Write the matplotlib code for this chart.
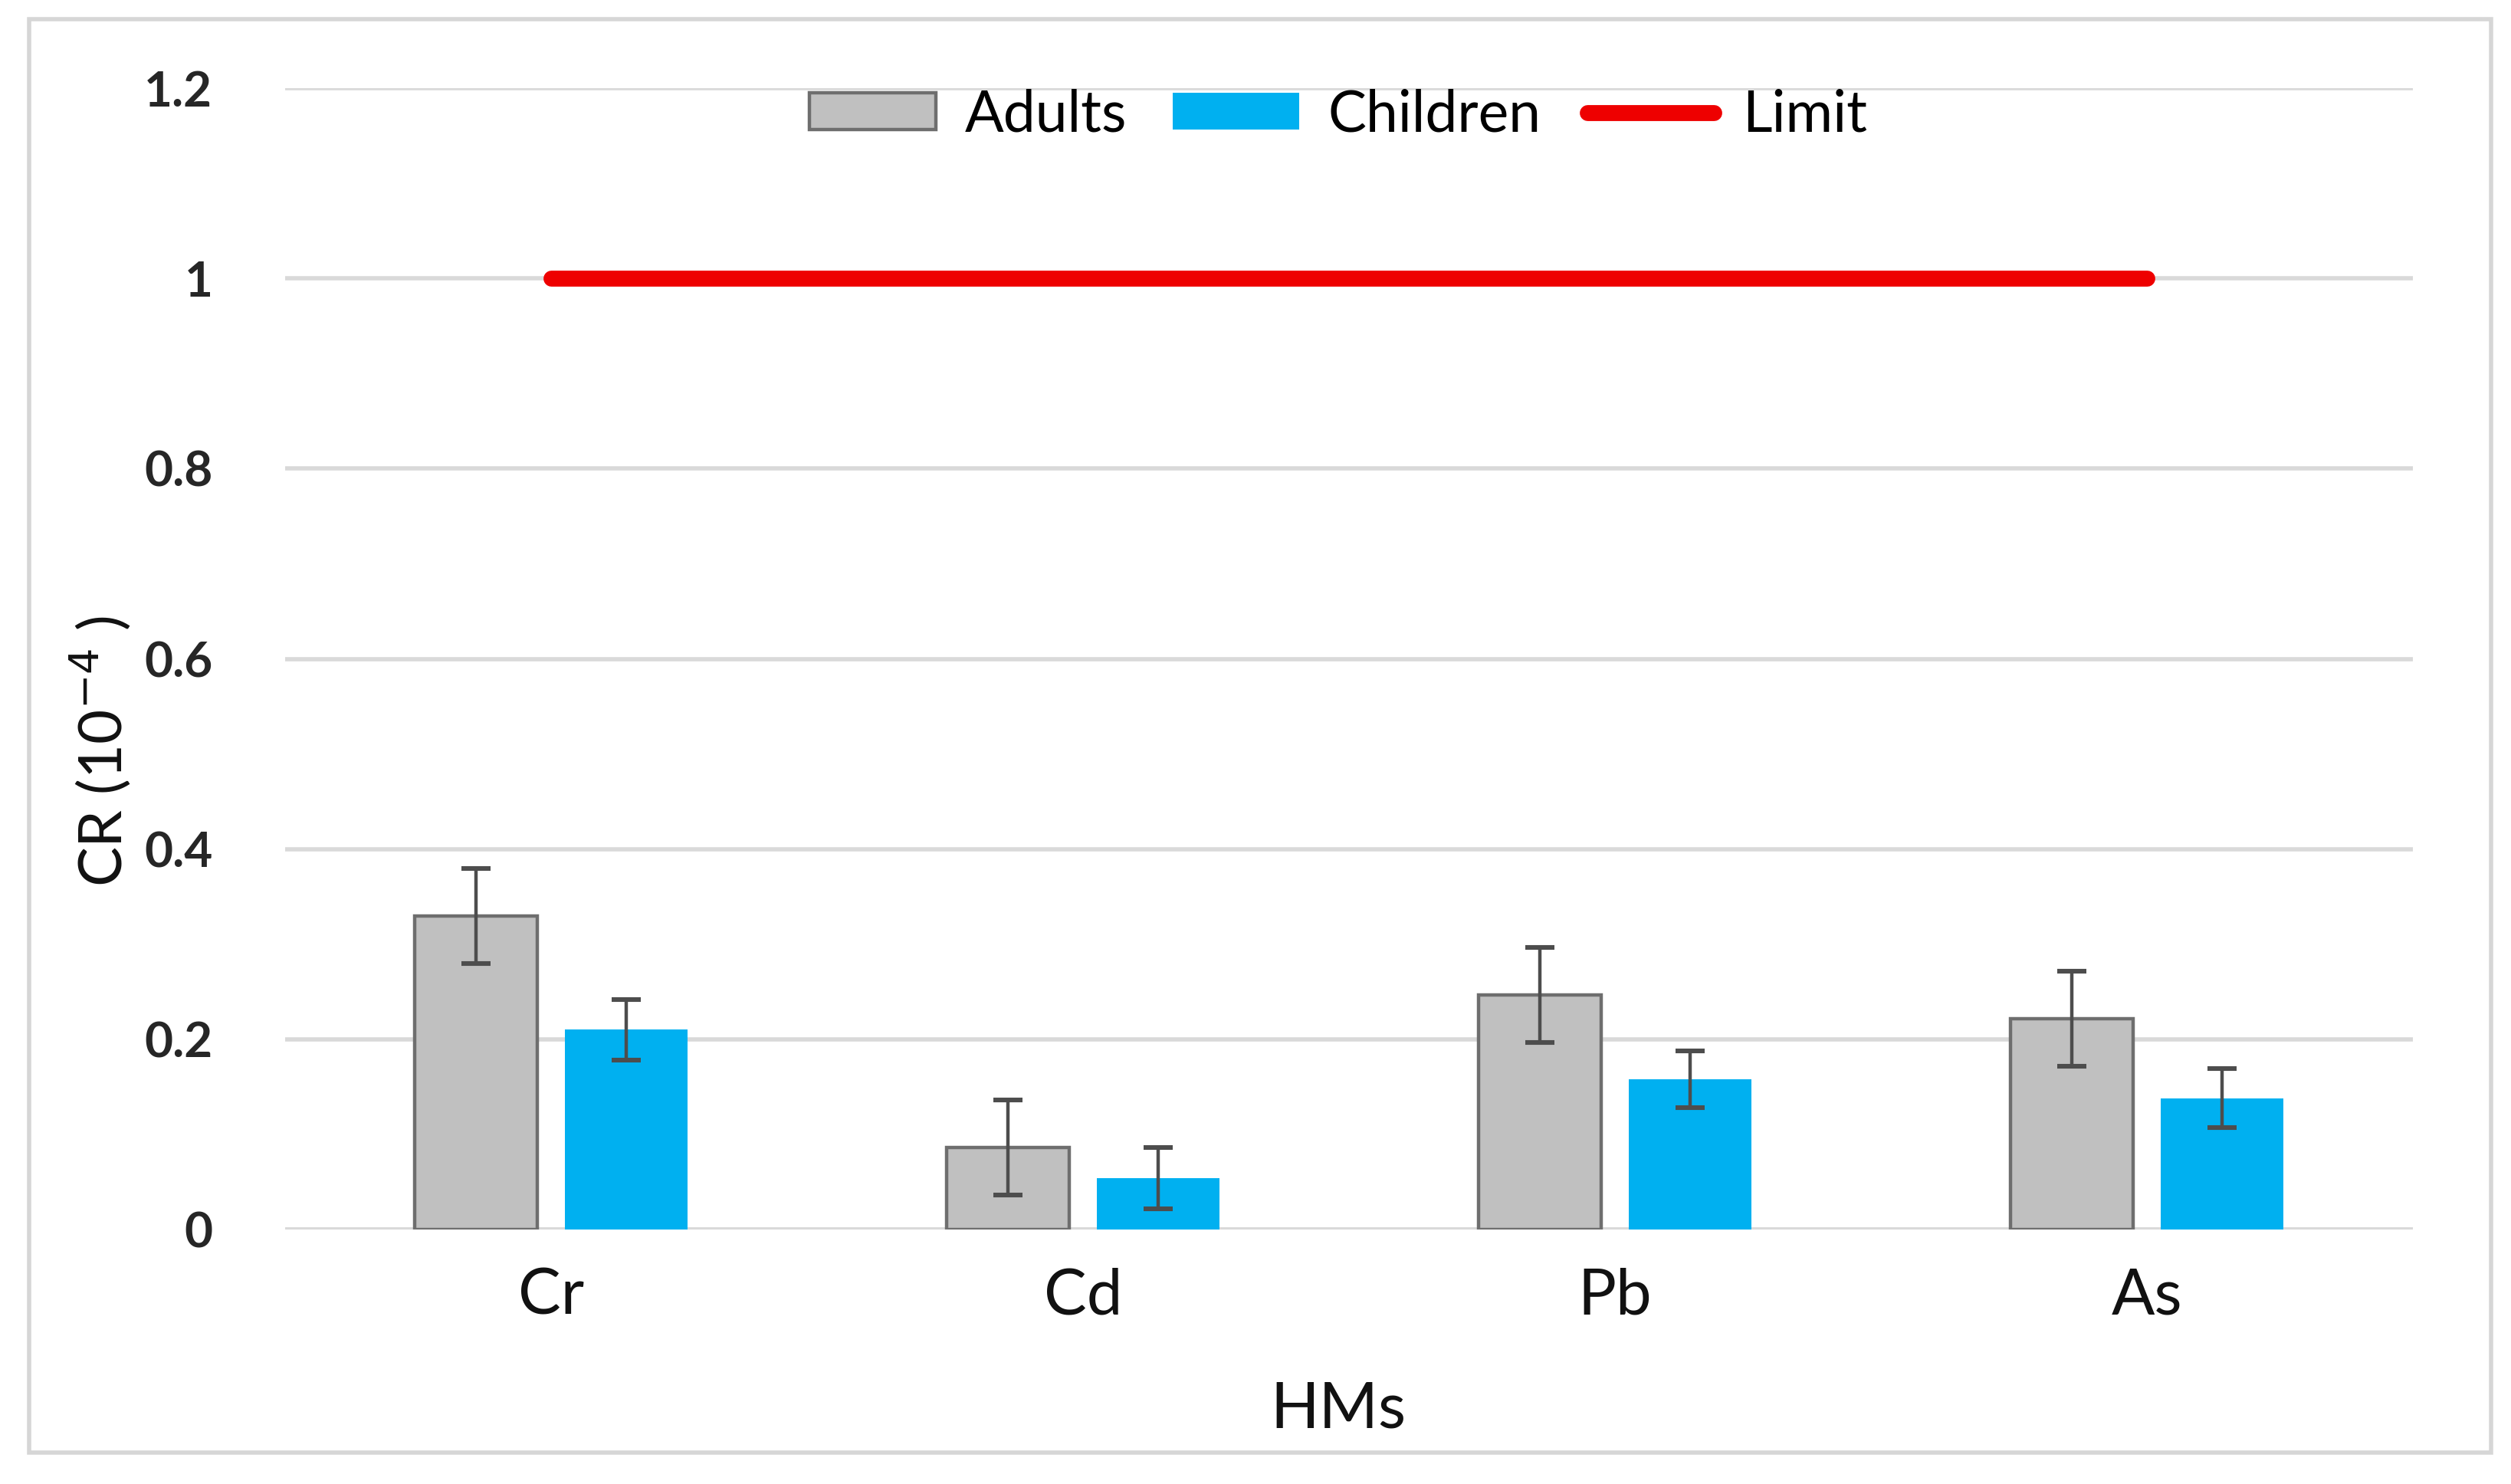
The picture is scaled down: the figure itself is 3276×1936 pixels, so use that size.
import numpy as np
import matplotlib
matplotlib.use("Agg")
import matplotlib.pyplot as plt
from matplotlib.patches import Rectangle
from matplotlib.lines import Line2D
from matplotlib.patches import Patch

# values
metals = ["Cr", "Cd", "Pb", "As"]
adults = [0.33, 0.086, 0.247, 0.222]
adults_err = [0.05, 0.05, 0.05, 0.05]
children = [0.21, 0.054, 0.158, 0.138]
children_err = [0.032, 0.032, 0.03, 0.031]
limit = [1, 1, 1, 1]
yticks = [0, 0.2, 0.4, 0.6, 0.8, 1, 1.2]
ytick_labels = ["0", "0.2", "0.4", "0.6", "0.8", "1", "1.2"]

plt.rcParams["font.family"] = ["Lato", "DejaVu Sans"]

fig = plt.figure(figsize=(16.38, 9.68), dpi=200)
ax = fig.add_axes([0.1135, 0.1715, 0.8475, 0.769])

# outer light frame
fig.patches.append(Rectangle((0.0115, 0.021), 0.9805, 0.966, transform=fig.transFigure,
                             fill=False, edgecolor="#d6d6d6", lw=2.0))

x = np.arange(len(metals))
w = 0.23
off = 0.141

ax.bar(x - off, adults, w, color="#c0c0c0", edgecolor="#6e6e6e", lw=1.6, zorder=3)
ax.bar(x + off, children, w, color="#00b0f0", edgecolor="none", zorder=3)
ax.errorbar(x - off, adults, yerr=adults_err, fmt="none", ecolor="#4d4d4d",
            elinewidth=1.6, capsize=7, capthick=2.2, zorder=4)
ax.errorbar(x + off, children, yerr=children_err, fmt="none", ecolor="#4d4d4d",
            elinewidth=1.6, capsize=7, capthick=2.2, zorder=4)
ax.plot(x, limit, color="#ee0000", lw=7.5, solid_capstyle="round", zorder=5)

ax.set_xlim(-0.5, 3.5)
ax.set_ylim(0, 1.2)
ax.set_yticks(yticks)
ax.set_yticklabels(ytick_labels, fontsize=23, fontweight="bold", color="#262626")
ax.set_xticks(x)
ax.set_xticklabels(metals, fontsize=30, color="#111111")
ax.tick_params(axis="y", length=0, pad=34)
ax.tick_params(axis="x", length=0, pad=18)
ax.grid(axis="y", color="#d9d9d9", lw=2.0, zorder=0)
ax.set_axisbelow(True)
for s in ax.spines.values():
    s.set_visible(False)
ax.axhline(0, color="#d9d9d9", lw=2.5, zorder=1)

fig.text(0.533, 0.05, "HMs", fontsize=30, ha="center", va="center", color="#111111")
fig.text(0.04, 0.494, "CR (10$^{-4}$ )", fontsize=28, rotation=90,
         ha="center", va="center", color="#111111")

handles = [
    Patch(facecolor="#c0c0c0", edgecolor="#6e6e6e", lw=1.6, label="Adults"),
    Patch(facecolor="#00b0f0", edgecolor="none", label="Children"),
    Line2D([0], [0], color="#ee0000", lw=7.5, solid_capstyle="round", label="Limit"),
]
ax.legend(handles=handles, loc="upper center", bbox_to_anchor=(0.495, 1.045), ncol=3,
          frameon=False, fontsize=27, handlelength=2.2, handleheight=0.6,
          columnspacing=0.8, handletextpad=0.5)

fig.savefig("out.png", dpi=200, facecolor="white")
